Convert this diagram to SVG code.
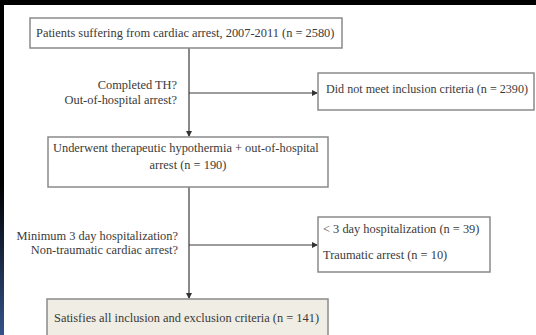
<svg xmlns="http://www.w3.org/2000/svg" width="536" height="335" viewBox="0 0 536 335">
<defs>
<linearGradient id="edge" x1="0" y1="0" x2="0" y2="1">
<stop offset="0" stop-color="#000"/>
<stop offset="0.55" stop-color="#000"/>
<stop offset="1" stop-color="#34528a"/>
</linearGradient>
<marker id="arr" markerWidth="6" markerHeight="6" refX="5" refY="3" orient="auto" markerUnits="userSpaceOnUse">
<path d="M0,0 L6,3 L0,6 Z" fill="#333"/>
</marker>
</defs>
<style>
.box{fill:#fff;stroke:#8a8a8a;stroke-width:1.5}
.fin{fill:#efede4;stroke:#8a8a8a;stroke-width:1.5}
.t{font-family:"Liberation Serif","Times New Roman",serif;font-size:12.4px;fill:#3a3a3a}
.r{text-anchor:end}
.c{text-anchor:middle}
.ln{stroke:#3a3a3a;stroke-width:1.2;fill:none}
</style>
<rect x="0" y="0" width="536" height="335" fill="#fff"/>
<rect x="0" y="0" width="536" height="5" fill="#000"/>
<rect x="0" y="0" width="4" height="335" fill="url(#edge)"/>
<g id="connectors">
<path class="ln" d="M189,48 V136" marker-end="url(#arr)"/>
<path class="ln" d="M189,93 H317" marker-end="url(#arr)"/>
<path class="ln" d="M189,187 V298" marker-end="url(#arr)"/>
<path class="ln" d="M189,245 H317" marker-end="url(#arr)"/>
</g>
<g id="n1">
<rect class="box" x="30" y="18" width="312" height="30"/>
<text class="t" x="36" y="37">Patients suffering from cardiac arrest, 2007-2011 (n = 2580)</text>
</g>
<g id="q1">
<text class="t r" x="177" y="89">Completed TH?</text>
<text class="t r" x="177" y="104">Out-of-hospital arrest?</text>
</g>
<g id="n2">
<rect class="box" x="318" y="73" width="216" height="37"/>
<text class="t" x="326" y="93" textLength="202" lengthAdjust="spacingAndGlyphs">Did not meet inclusion criteria (n = 2390)</text>
</g>
<g id="n3">
<rect class="box" x="48" y="137" width="280" height="50"/>
<text class="t" x="53" y="152">Underwent therapeutic hypothermia + out-of-hospital</text>
<text class="t c" x="188" y="169">arrest (n = 190)</text>
</g>
<g id="q2">
<text class="t r" x="178" y="240">Minimum 3 day hospitalization?</text>
<text class="t r" x="178" y="254">Non-traumatic cardiac arrest?</text>
</g>
<g id="n4">
<rect class="box" x="318" y="217" width="172" height="55"/>
<text class="t" x="323" y="233">&lt; 3 day hospitalization (n = 39)</text>
<text class="t" x="323" y="259">Traumatic arrest (n = 10)</text>
</g>
<g id="n5">
<rect class="fin" x="47" y="299" width="281" height="45"/>
<text class="t" x="54" y="322">Satisfies all inclusion and exclusion criteria (n = 141)</text>
</g>
</svg>
